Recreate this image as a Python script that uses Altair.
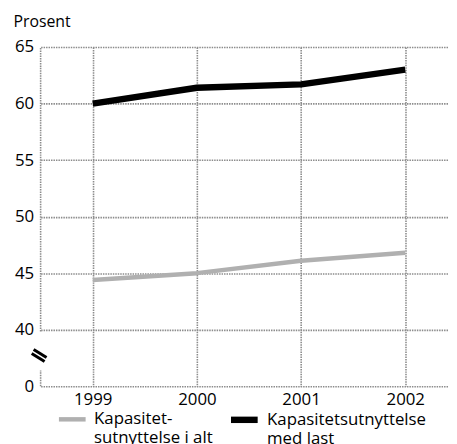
import altair as alt
import pandas as pd

# ---- data ----
years = [1999, 2000, 2001, 2002]
total_util = [44.4, 45.0, 46.1, 46.8]      # Kapasitetsutnyttelse i alt
laden_util = [60.0, 61.4, 61.7, 63.0]      # Kapasitetsutnyttelse med last
series_names = ["Kapasitet-|sutnyttelse i alt", "Kapasitetsutnyttelse|med last"]
series_colors = ["#b0b0b0", "#000000"]
series_widths = [4.5, 6.5]

y_ticks = [35, 40, 45, 50, 55, 60, 65]     # 35 is the broken-axis position of "0"
x_ticks = [1999, 2000, 2001, 2002]
x_domain = [1998.5, 2002.42]
y_domain = [35, 65]

# left axis line, interrupted by the axis break
edge_lo = [39.85, 35.0]
edge_hi = [65.0, 36.4]
# the two slanted strokes of the axis break symbol
break_x = [1998.433, 1998.414]
break_x2 = [1998.557, 1998.538]
break_y = [38.24, 37.89]
break_y2 = [37.54, 37.19]

FONT = "Open Sans"
GRID = "#8c8c8c"

rows = []
for name, vals in zip(series_names, [total_util, laden_util]):
    for yr, v in zip(years, vals):
        rows.append({"year": yr, "value": v, "series": name})
df = pd.DataFrame(rows)

edge_df = pd.DataFrame({"year": [x_domain[0]] * 2, "value": edge_lo, "value2": edge_hi})
break_df = pd.DataFrame({"year": break_x, "year2": break_x2, "value": break_y, "value2": break_y2})

xscale = alt.Scale(domain=x_domain, nice=False, zero=False)
yscale = alt.Scale(domain=y_domain, nice=False, zero=False)

x_axis = alt.Axis(values=x_ticks, format="d", domain=False,
                  ticks=False, labelPadding=6, labelFontSize=17,
                  labelFont=FONT, labelColor="#000", grid=True,
                  gridColor=GRID, gridDash=[1.5, 1], gridWidth=1.6)
y_axis = alt.Axis(values=y_ticks, titleAngle=0,
                  titleAlign="left", titleBaseline="alphabetic",
                  titleX=-28, titleY=-21, titleFont=FONT,
                  titleFontSize=16, titleFontWeight="normal",
                  titleColor="#000",
                  labelExpr="datum.value == 35 ? '0' : datum.label",
                  domain=False, ticks=False, labelPadding=7,
                  labelFontSize=17, labelFont=FONT, labelColor="#000",
                  grid=True, gridColor=GRID, gridDash=[1.5, 1],
                  gridWidth=1.6)


def X(field="year:Q"):
    return alt.X(field, scale=xscale, axis=x_axis, title=None)


def Y(field="value:Q"):
    return alt.Y(field, scale=yscale, axis=y_axis, title="Prosent")


lines = alt.Chart(df).mark_line(strokeCap="butt", strokeJoin="round").encode(
    x=X(),
    y=Y(),
    color=alt.Color("series:N",
                    scale=alt.Scale(domain=series_names, range=series_colors),
                    legend=alt.Legend(title=None, orient="none", legendX=16,
                                      legendY=360, direction="horizontal",
                                      symbolType="stroke", symbolSize=729,
                                      symbolStrokeWidth=5,
                                      labelExpr="split(datum.label, '|')",
                                      labelFontSize=17, labelFont=FONT,
                                      labelColor="#000", labelOffset=6,
                                      columnPadding=4, labelLimit=300,
                                      labelBaseline="middle", padding=0)),
    strokeWidth=alt.StrokeWidth("series:N",
                                scale=alt.Scale(domain=series_names, range=series_widths),
                                legend=None),
)

edge = alt.Chart(edge_df).mark_rule(color=GRID, strokeDash=[1.5, 1], strokeWidth=1.6).encode(
    x=X(), y=Y(), y2="value2:Q",
)

brk = alt.Chart(break_df).mark_rule(color="#000", strokeWidth=3).encode(
    x=X(), x2="year2:Q", y=Y(), y2="value2:Q",
)

chart = alt.layer(edge, lines, brk).properties(
    width=413, height=343,
    padding={"left": 5, "top": 3, "right": 0, "bottom": 0},
    background="white",
).configure_view(stroke=None)

chart.save("out.html", embed_options={"renderer": "svg", "actions": False})
